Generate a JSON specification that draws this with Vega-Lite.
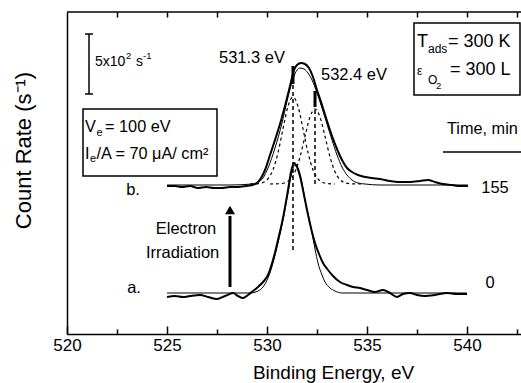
{
  "$schema": "https://vega.github.io/schema/vega-lite/v6.json",
  "width": 454,
  "height": 322,
  "autosize": {"type": "none"},
  "padding": {"left": 67, "top": 12, "right": 0, "bottom": 49},
  "background": "white",
  "config": {
    "font": "Liberation Sans",
    "view": {"stroke": null},
    "style": {"cell": {"stroke": null}},
    "text": {"font": "Liberation Sans", "color": "black"}
  },
  "datasets": {
    "measured": [
      {"s":"a","E":525.0,"c":37},{"s":"a","E":525.4,"c":38},{"s":"a","E":525.8,"c":37},{"s":"a","E":526.15,"c":38},{"s":"a","E":526.65,"c":39},{"s":"a","E":527.05,"c":37},{"s":"a","E":527.5,"c":35},{"s":"a","E":527.9,"c":38},{"s":"a","E":528.3,"c":41},{"s":"a","E":528.55,"c":38},{"s":"a","E":528.8,"c":36},{"s":"a","E":529.05,"c":39},{"s":"a","E":529.3,"c":43},{"s":"a","E":529.55,"c":47},{"s":"a","E":529.8,"c":52},{"s":"a","E":530.05,"c":59},{"s":"a","E":530.3,"c":74},{"s":"a","E":530.55,"c":94},{"s":"a","E":530.8,"c":116},{"s":"a","E":531.05,"c":144},{"s":"a","E":531.2,"c":162},{"s":"a","E":531.35,"c":171},{"s":"a","E":531.5,"c":167},{"s":"a","E":531.65,"c":158},{"s":"a","E":531.8,"c":144},{"s":"a","E":532.0,"c":124},{"s":"a","E":532.2,"c":106},{"s":"a","E":532.4,"c":91},{"s":"a","E":532.6,"c":80},{"s":"a","E":532.8,"c":71},{"s":"a","E":533.05,"c":64},{"s":"a","E":533.3,"c":58},{"s":"a","E":533.65,"c":52},{"s":"a","E":534.0,"c":49},{"s":"a","E":534.3,"c":47},{"s":"a","E":534.65,"c":46},{"s":"a","E":535.0,"c":44},{"s":"a","E":535.4,"c":42},{"s":"a","E":535.8,"c":44},{"s":"a","E":536.15,"c":41},{"s":"a","E":536.5,"c":37},{"s":"a","E":536.8,"c":40},{"s":"a","E":537.15,"c":41},{"s":"a","E":537.5,"c":39},{"s":"a","E":537.9,"c":38},{"s":"a","E":538.4,"c":39},{"s":"a","E":539.0,"c":41},{"s":"a","E":539.5,"c":40},{"s":"a","E":540.0,"c":40},
      {"s":"b","E":525.0,"c":148},{"s":"b","E":525.4,"c":148},{"s":"b","E":525.75,"c":147},{"s":"b","E":526.15,"c":148},{"s":"b","E":526.55,"c":146},{"s":"b","E":526.95,"c":147},{"s":"b","E":527.35,"c":146},{"s":"b","E":527.75,"c":146},{"s":"b","E":528.15,"c":147},{"s":"b","E":528.55,"c":147},{"s":"b","E":528.95,"c":148},{"s":"b","E":529.25,"c":149},{"s":"b","E":529.5,"c":151},{"s":"b","E":529.7,"c":156},{"s":"b","E":529.9,"c":164},{"s":"b","E":530.15,"c":179},{"s":"b","E":530.4,"c":194},{"s":"b","E":530.65,"c":210},{"s":"b","E":530.9,"c":228},{"s":"b","E":531.15,"c":248},{"s":"b","E":531.35,"c":264},{"s":"b","E":531.5,"c":269},{"s":"b","E":531.7,"c":271},{"s":"b","E":531.9,"c":270},{"s":"b","E":532.1,"c":266},{"s":"b","E":532.3,"c":257},{"s":"b","E":532.5,"c":244},{"s":"b","E":532.75,"c":229},{"s":"b","E":533.0,"c":213},{"s":"b","E":533.25,"c":198},{"s":"b","E":533.5,"c":185},{"s":"b","E":533.75,"c":174},{"s":"b","E":534.0,"c":166},{"s":"b","E":534.25,"c":162},{"s":"b","E":534.55,"c":159},{"s":"b","E":534.9,"c":157},{"s":"b","E":535.25,"c":156},{"s":"b","E":535.65,"c":155},{"s":"b","E":536.15,"c":153},{"s":"b","E":536.65,"c":152},{"s":"b","E":537.15,"c":152},{"s":"b","E":537.65,"c":153},{"s":"b","E":538.05,"c":154},{"s":"b","E":538.4,"c":152},{"s":"b","E":538.8,"c":150},{"s":"b","E":539.25,"c":149},{"s":"b","E":539.65,"c":148},{"s":"b","E":540.05,"c":148}
    ],
    "fit": [
      {"s":"a","E":525.0,"c":41},{"s":"a","E":529.15,"c":41},{"s":"a","E":529.55,"c":43},{"s":"a","E":529.8,"c":47},{"s":"a","E":530.05,"c":56},{"s":"a","E":530.3,"c":71},{"s":"a","E":530.55,"c":91},{"s":"a","E":530.8,"c":114},{"s":"a","E":531.05,"c":141},{"s":"a","E":531.25,"c":162},{"s":"a","E":531.4,"c":169},{"s":"a","E":531.55,"c":166},{"s":"a","E":531.75,"c":151},{"s":"a","E":531.9,"c":134},{"s":"a","E":532.1,"c":116},{"s":"a","E":532.25,"c":101},{"s":"a","E":532.4,"c":85},{"s":"a","E":532.55,"c":71},{"s":"a","E":532.75,"c":59},{"s":"a","E":532.9,"c":52},{"s":"a","E":533.15,"c":46},{"s":"a","E":533.4,"c":43},{"s":"a","E":533.75,"c":41},{"s":"a","E":540.0,"c":41},
      {"s":"b","E":525.0,"c":149},{"s":"b","E":528.15,"c":149},{"s":"b","E":529.25,"c":150},{"s":"b","E":529.55,"c":152},{"s":"b","E":529.8,"c":156},{"s":"b","E":530.05,"c":166},{"s":"b","E":530.4,"c":186},{"s":"b","E":530.75,"c":211},{"s":"b","E":531.05,"c":237},{"s":"b","E":531.3,"c":255},{"s":"b","E":531.5,"c":264},{"s":"b","E":531.65,"c":266},{"s":"b","E":531.85,"c":265},{"s":"b","E":532.05,"c":261},{"s":"b","E":532.25,"c":254},{"s":"b","E":532.5,"c":241},{"s":"b","E":532.75,"c":226},{"s":"b","E":533.0,"c":210},{"s":"b","E":533.25,"c":194},{"s":"b","E":533.5,"c":179},{"s":"b","E":533.75,"c":167},{"s":"b","E":534.0,"c":159},{"s":"b","E":534.25,"c":154},{"s":"b","E":534.55,"c":151},{"s":"b","E":534.9,"c":150},{"s":"b","E":535.65,"c":149},{"s":"b","E":540.05,"c":149}
    ],
    "comp": [
      {"p":"1","E":529.15,"c":150.0},{"p":"1","E":529.55,"c":150.3},{"p":"1","E":529.8,"c":151.5},{"p":"1","E":530.05,"c":155.1},{"p":"1","E":530.3,"c":164.2},{"p":"1","E":530.55,"c":181.3},{"p":"1","E":530.8,"c":205.2},{"p":"1","E":531.05,"c":227.7},{"p":"1","E":531.3,"c":237},{"p":"1","E":531.55,"c":227.7},{"p":"1","E":531.8,"c":205.2},{"p":"1","E":532.05,"c":181.3},{"p":"1","E":532.3,"c":164.2},{"p":"1","E":532.55,"c":155.1},{"p":"1","E":532.8,"c":151.5},{"p":"1","E":533.05,"c":150.3},{"p":"1","E":533.4,"c":150.0},
      {"p":"2","E":530.15,"c":150.0},{"p":"2","E":530.65,"c":150.3},{"p":"2","E":530.9,"c":151.3},{"p":"2","E":531.15,"c":154.4},{"p":"2","E":531.4,"c":162.2},{"p":"2","E":531.65,"c":177},{"p":"2","E":531.9,"c":197.6},{"p":"2","E":532.15,"c":217},{"p":"2","E":532.4,"c":225},{"p":"2","E":532.65,"c":217},{"p":"2","E":532.9,"c":197.6},{"p":"2","E":533.15,"c":177},{"p":"2","E":533.4,"c":162.2},{"p":"2","E":533.65,"c":154.4},{"p":"2","E":533.9,"c":151.3},{"p":"2","E":534.15,"c":150.3},{"p":"2","E":534.75,"c":150.0}
    ]
  },
  "layer": [
    {
      "data": {"name": "measured"},
      "mark": {"type": "line", "color": "black", "strokeWidth": 2, "interpolate": "monotone"},
      "encoding": {
        "x": {"field": "E", "type": "quantitative",
          "scale": {"domain": [520, 542.7], "nice": false, "zero": false},
          "axis": {"orient": "bottom", "values": [520, 525, 530, 535, 540], "tickSize": -8, "tickWidth": 1.5, "tickColor": "black",
            "domain": true, "domainColor": "black", "domainWidth": 1.5, "grid": false, "labelFontSize": 17, "labelColor": "black", "labelPadding": 11, "labelFlush": false,
            "labelFont": "Liberation Sans",
            "title": "Binding Energy, eV", "titleFontSize": 19, "titleFontWeight": "normal", "titleColor": "black",
            "titleFont": "Liberation Sans", "titleX": 266, "titleY": 44, "titleBaseline": "alphabetic"}},
        "y": {"field": "c", "type": "quantitative",
          "scale": {"domain": [0, 322], "nice": false, "zero": false},
          "axis": {"orient": "left", "domain": true, "domainColor": "black", "domainWidth": 1.5, "ticks": false, "labels": false, "grid": false,
            "title": "Count Rate (s⁻¹)", "titleFontSize": 22, "titleFontWeight": "normal", "titleColor": "black",
            "titleFont": "Liberation Sans", "titleX": -37, "titleY": 138, "titleBaseline": "alphabetic"}},
        "detail": {"field": "s"}
      }
    },
    {
      "data": {"name": "fit"},
      "mark": {"type": "line", "color": "black", "strokeWidth": 1, "interpolate": "monotone"},
      "encoding": {
        "x": {"field": "E", "type": "quantitative",
          "axis": {"orient": "bottom", "values": [522.5, 527.5, 532.5, 537.5, 542.5], "tickSize": -5, "tickWidth": 1.5, "tickColor": "black",
            "domain": false, "grid": false, "labels": false, "title": null}},
        "y": {"field": "c", "type": "quantitative", "axis": null},
        "detail": {"field": "s"}
      }
    },
    {
      "data": {"name": "comp"},
      "mark": {"type": "line", "color": "black", "strokeWidth": 1.2, "strokeDash": [3, 3], "interpolate": "monotone"},
      "encoding": {
        "x": {"field": "E", "type": "quantitative",
          "axis": {"orient": "top", "values": [522.5, 525, 527.5, 530, 532.5, 535, 537.5, 540, 542.5], "tickSize": -5, "tickWidth": 1.5, "tickColor": "black",
            "domain": false, "grid": false, "labels": false, "title": null}},
        "y": {"field": "c", "type": "quantitative", "axis": null},
        "detail": {"field": "p"}
      }
    },
    {
      "data": {"values": [{"E1": 520, "E2": 542.7, "c": 322}]},
      "mark": {"type": "rule", "color": "black", "strokeWidth": 1.5},
      "encoding": {
        "x": {"field": "E1", "type": "quantitative", "axis": null},
        "x2": {"field": "E2"},
        "y": {"field": "c", "type": "quantitative", "axis": null}
      }
    },
    {
      "data": {"values": [{"E": 531.3, "y1": 84, "y2": 266}, {"E": 532.4, "y1": 150, "y2": 229}]},
      "mark": {"type": "rule", "color": "black", "strokeWidth": 1.5, "strokeDash": [4, 3]},
      "encoding": {
        "x": {"field": "E", "type": "quantitative", "axis": null},
        "y": {"field": "y1", "type": "quantitative", "axis": null},
        "y2": {"field": "y2"}
      }
    },
    {
      "data": {"values": [{"E": 531.3, "y1": 250, "y2": 268}, {"E": 532.4, "y1": 227, "y2": 243}, {"E": 528.15, "y1": 47, "y2": 118}]},
      "mark": {"type": "rule", "color": "black", "strokeWidth": 3},
      "encoding": {
        "x": {"field": "E", "type": "quantitative", "axis": null},
        "y": {"field": "y1", "type": "quantitative", "axis": null},
        "y2": {"field": "y2"}
      }
    },
    {
      "data": {"values": [{"E": 528.15, "c": 124}]},
      "mark": {"type": "point", "shape": "triangle-up", "filled": true, "color": "black", "size": 100, "opacity": 1},
      "encoding": {
        "x": {"field": "E", "type": "quantitative", "axis": null},
        "y": {"field": "c", "type": "quantitative", "axis": null}
      }
    },
    {
      "data": {"values": [{"E": 521.1, "y1": 240, "y2": 300}]},
      "mark": {"type": "rule", "color": "black", "strokeWidth": 1.5},
      "encoding": {
        "x": {"field": "E", "type": "quantitative", "axis": null},
        "y": {"field": "y1", "type": "quantitative", "axis": null},
        "y2": {"field": "y2"}
      }
    },
    {
      "data": {"values": [{"E1": 520.9, "E2": 521.3, "c": 300}, {"E1": 520.9, "E2": 521.3, "c": 240}, {"E1": 538.8, "E2": 542.7, "c": 182}]},
      "mark": {"type": "rule", "color": "black", "strokeWidth": 1.5},
      "encoding": {
        "x": {"field": "E1", "type": "quantitative", "axis": null},
        "x2": {"field": "E2"},
        "y": {"field": "c", "type": "quantitative", "axis": null}
      }
    },
    {
      "data": {"values": [{"E1": 520.8, "E2": 527.5, "c1": 158, "c2": 225}, {"E1": 537.35, "E2": 542.65, "c1": 239, "c2": 311}]},
      "mark": {"type": "rect", "fill": "white", "stroke": "black", "strokeWidth": 1.5},
      "encoding": {
        "x": {"field": "E1", "type": "quantitative", "axis": null},
        "x2": {"field": "E2"},
        "y": {"field": "c1", "type": "quantitative", "axis": null},
        "y2": {"field": "c2"}
      }
    },
    {
      "data": {"values": [
        {"t": "531.3 eV", "E": 529.25, "c": 276},
        {"t": "532.4 eV", "E": 534.35, "c": 259},
        {"t": "Electron", "E": 525.95, "c": 105},
        {"t": "Irradiation", "E": 525.78, "c": 81},
        {"t": "b.", "E": 523.3, "c": 144},
        {"t": "a.", "E": 523.35, "c": 46},
        {"t": "155", "E": 541.4, "c": 146},
        {"t": "0", "E": 541.15, "c": 51}
      ]},
      "mark": {"type": "text", "fontSize": 16.5, "align": "center", "baseline": "middle", "color": "black"},
      "encoding": {
        "x": {"field": "E", "type": "quantitative", "axis": null},
        "y": {"field": "c", "type": "quantitative", "axis": null},
        "text": {"field": "t"}
      }
    },
    {
      "data": {"values": [
        {"t": "V", "E": 520.9, "c": 207},
        {"t": "= 100 eV", "E": 521.9, "c": 207},
        {"t": "I", "E": 520.9, "c": 180},
        {"t": "/A = 70 μA/ cm²", "E": 521.47, "c": 180},
        {"t": "Time, min", "E": 539.0, "c": 205}
      ]},
      "mark": {"type": "text", "fontSize": 16.3, "align": "left", "baseline": "middle", "color": "black"},
      "encoding": {
        "x": {"field": "E", "type": "quantitative", "axis": null},
        "y": {"field": "c", "type": "quantitative", "axis": null},
        "text": {"field": "t"}
      }
    },
    {
      "data": {"values": [
        {"t": "e", "E": 521.47, "c": 201},
        {"t": "e", "E": 521.15, "c": 175}
      ]},
      "mark": {"type": "text", "fontSize": 11, "align": "left", "baseline": "middle", "color": "black"},
      "encoding": {
        "x": {"field": "E", "type": "quantitative", "axis": null},
        "y": {"field": "c", "type": "quantitative", "axis": null},
        "text": {"field": "t"}
      }
    },
    {
      "data": {"values": [
        {"t": "T", "E": 537.5, "c": 292},
        {"t": "= 300 K", "E": 539.05, "c": 292},
        {"t": "= 300 L", "E": 539.15, "c": 264}
      ]},
      "mark": {"type": "text", "fontSize": 18, "align": "left", "baseline": "middle", "color": "black"},
      "encoding": {
        "x": {"field": "E", "type": "quantitative", "axis": null},
        "y": {"field": "c", "type": "quantitative", "axis": null},
        "text": {"field": "t"}
      }
    },
    {
      "data": {"values": [
        {"t": "ads", "E": 538.05, "c": 285},
        {"t": "ε", "E": 537.5, "c": 263},
        {"t": "O", "E": 538.05, "c": 254}
      ]},
      "mark": {"type": "text", "fontSize": 12, "align": "left", "baseline": "middle", "color": "black"},
      "encoding": {
        "x": {"field": "E", "type": "quantitative", "axis": null},
        "y": {"field": "c", "type": "quantitative", "axis": null},
        "text": {"field": "t"}
      }
    },
    {
      "data": {"values": [
        {"t": "5x10", "E": 521.4, "c": 272},
        {"t": "s", "E": 523.45, "c": 272}
      ]},
      "mark": {"type": "text", "fontSize": 14, "align": "left", "baseline": "middle", "color": "black"},
      "encoding": {
        "x": {"field": "E", "type": "quantitative", "axis": null},
        "y": {"field": "c", "type": "quantitative", "axis": null},
        "text": {"field": "t"}
      }
    },
    {
      "data": {"values": [
        {"t": "2", "E": 522.95, "c": 278},
        {"t": "-1", "E": 523.8, "c": 278},
        {"t": "2", "E": 538.45, "c": 248}
      ]},
      "mark": {"type": "text", "fontSize": 9.5, "align": "left", "baseline": "middle", "color": "black"},
      "encoding": {
        "x": {"field": "E", "type": "quantitative", "axis": null},
        "y": {"field": "c", "type": "quantitative", "axis": null},
        "text": {"field": "t"}
      }
    }
  ],
  "resolve": {"axis": {"x": "independent", "y": "independent"}}
}
